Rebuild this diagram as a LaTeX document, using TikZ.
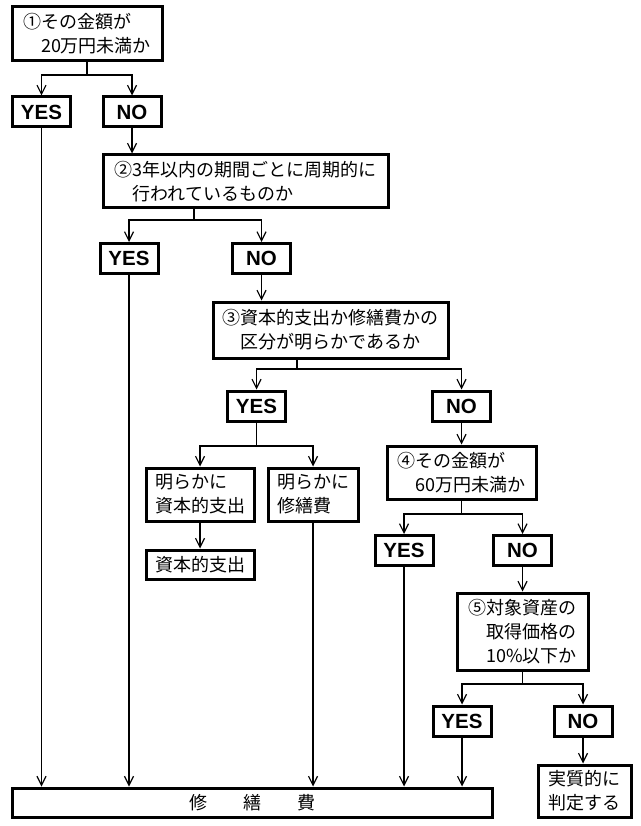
\documentclass[tikz,border=0pt]{standalone}
\usepackage{fontspec}
\setmainfont{Noto Sans CJK JP}
\newfontfamily\ynfont{Liberation Sans}
\usetikzlibrary{arrows.meta}
\begin{document}
\begin{tikzpicture}[x=1pt,y=-1pt,
  box/.style={draw, line width=3pt, inner sep=0pt, font=\fontsize{18}{24}\selectfont, align=left},
  yn/.style={draw, line width=3pt, inner sep=0pt, font=\ynfont\bfseries\fontsize{20.5}{24}\selectfont, minimum width=58pt, minimum height=30pt},
  ln/.style={line width=1.2pt},
  arr/.style={line width=1.2pt, -{Straight Barb[length=9pt,width=9pt]}}]
\useasboundingbox[fill=white] (0,0) rectangle (640,826);

% nodes
\node[box, minimum width=150pt, minimum height=54pt] (b1) at (87,34) {①その金額が\\\phantom{①}20万円未満か};
\node[yn] (yes1) at (41.5,112) {YES};
\node[yn] (no1) at (132,112) {NO};
\node[box, minimum width=285pt, minimum height=53pt] (b2) at (245.5,181.5) {②3年以内の期間ごとに周期的に\\\phantom{②}行われているものか};
\node[yn] (yes2) at (129,258.5) {YES};
\node[yn] (no2) at (261.5,258.5) {NO};
\node[box, minimum width=235pt, minimum height=56pt] (b3) at (330.5,330) {③資本的支出か修繕費かの\\\phantom{③}区分が明らかであるか};
\node[yn] (yes3) at (256.5,406) {YES};
\node[yn] (no3) at (461.5,406) {NO};
\node[box, minimum width=108pt, minimum height=53pt] (b3a) at (200,494.5) {明らかに\\資本的支出};
\node[box, minimum width=90pt, minimum height=53pt] (b3b) at (313,494.5) {明らかに\\修繕費};
\node[box, minimum width=108pt, minimum height=29pt] (b3c) at (200,564.5) {資本的支出};
\node[box, minimum width=149pt, minimum height=53pt] (b4) at (461.5,472.5) {④その金額が\\\phantom{④}60万円未満か};
\node[yn] (yes4) at (404,550.5) {YES};
\node[yn] (no4) at (522.5,550.5) {NO};
\node[box, minimum width=131pt, minimum height=77pt] (b5) at (522.5,631.5) {⑤対象資産の\\\phantom{⑤}取得価格の\\\phantom{⑤}10\%以下か};
\node[yn] (yes5) at (462,721) {YES};
\node[yn] (no5) at (583,721) {NO};
\node[box, minimum width=93pt, minimum height=52pt] (b5n) at (584.5,791) {実質的に\\判定する};
\node[box, minimum width=480pt, minimum height=29pt] (bot) at (252,802.5) {修　　繕　　費};

% junctions
\coordinate (j1) at (87,75);
\coordinate (j2) at (194,220);
\coordinate (j3) at (297,369);
\coordinate (j3a) at (256.5,446);
\coordinate (j4) at (461.5,514);
\coordinate (j5) at (522.5,684);

% connectors
\draw[ln] (b1.south) -- (j1);
\draw[arr] (j1) -| (yes1.north);
\draw[arr] (j1) -| (no1.north);
\draw[arr] (yes1.south) -- (yes1.south |- bot.north);
\draw[arr] (no1.south) -- (no1.south |- b2.north);

\draw[ln] (b2.south -| j2) -- (j2);
\draw[arr] (j2) -| (yes2.north);
\draw[arr] (j2) -| (no2.north);
\draw[arr] (yes2.south) -- (yes2.south |- bot.north);
\draw[arr] (no2.south) -- (no2.south |- b3.north);

\draw[ln] (b3.south -| j3) -- (j3);
\draw[arr] (j3) -| (yes3.north);
\draw[arr] (j3) -| (no3.north);

\draw[ln] (yes3.south) -- (j3a);
\draw[arr] (j3a) -| (b3a.north);
\draw[arr] (j3a) -| (b3b.north);
\draw[arr] (b3a.south) -- (b3c.north);
\draw[arr] (b3b.south) -- (b3b.south |- bot.north);

\draw[arr] (no3.south) -- (b4.north);
\draw[ln] (b4.south) -- (j4);
\draw[arr] (j4) -| (yes4.north);
\draw[arr] (j4) -| (no4.north);
\draw[arr] (yes4.south) -- (yes4.south |- bot.north);
\draw[arr] (no4.south) -- (b5.north);

\draw[ln] (b5.south) -- (j5);
\draw[arr] (j5) -| (yes5.north);
\draw[arr] (j5) -| (no5.north);
\draw[arr] (yes5.south) -- (yes5.south |- bot.north);
\draw[arr] (no5.south) -- (no5.south |- b5n.north);
\end{tikzpicture}
\end{document}
